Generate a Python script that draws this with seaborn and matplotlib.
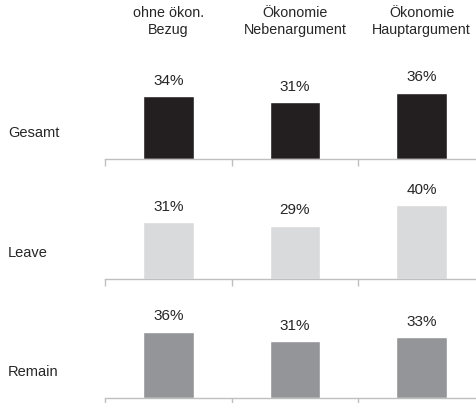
import numpy as np
import pandas as pd
import matplotlib
matplotlib.use("Agg")
import matplotlib.pyplot as plt
import matplotlib.transforms as mtransforms
import seaborn as sns

# Daten
kategorien = ["ohne ökon.\nBezug", "Ökonomie\nNebenargument", "Ökonomie\nHauptargument"]
gruppen = ["Gesamt", "Leave", "Remain"]
gesamt = [34, 31, 36]
leave = [31, 29, 40]
remain = [36, 31, 33]
farben = ["#231f20", "#d9dadb", "#939598"]

sns.set_style("white")
plt.rcParams['font.family'] = ['Liberation Sans', 'DejaVu Sans']

W, H = 477, 403
fig = plt.figure(figsize=(W / 100, H / 100), dpi=100)

baselines = [159, 279, 398]   # Pixel von oben
panel_h = 92
ymax = 50
x0, breite = 105, 380

werte = [gesamt, leave, remain]
achsen = []
for i, (gruppe, vals, farbe) in enumerate(zip(gruppen, werte, farben)):
    ax = fig.add_axes([x0 / W, (H - baselines[i]) / H, breite / W, panel_h / H])
    df = pd.DataFrame({"kat": kategorien, "wert": vals})
    sns.barplot(data=df, x="kat", y="wert", color=farbe, saturation=1,
                width=0.4, ax=ax)
    ax.set_xlim(-0.5, 2.5)
    ax.set_ylim(0, ymax)
    for s in ["top", "right", "left"]:
        ax.spines[s].set_visible(False)
    ax.spines["bottom"].set_color("#bfbfbf")
    ax.spines["bottom"].set_linewidth(1)
    ax.set_xticks([-0.5, 0.5, 1.5, 2.5])
    ax.set_xticklabels([])
    ax.tick_params(axis="x", direction="out", length=5, width=1,
                   color="#bfbfbf", bottom=True)
    ax.set_yticks([])
    ax.set_xlabel("")
    ax.set_ylabel("")
    for j, v in enumerate(vals):
        ax.annotate(f"{v}%", (j, v), xytext=(0, 6), textcoords="offset points",
                    ha="center", va="bottom", fontsize=11, color="#262626")
    fig.text(8 / W, (H - baselines[i] + 26) / H, gruppe, ha="left",
             va="center", fontsize=10.5, color="#262626")
    achsen.append(ax)

# Spaltenüberschriften
trans = mtransforms.blended_transform_factory(achsen[0].transData, fig.transFigure)
for j, k in enumerate(kategorien):
    achsen[0].text(j, (H - 6) / H, k, transform=trans, ha="center", va="top",
                   fontsize=10.3, color="#262626", linespacing=1.25)

fig.savefig("out.png", dpi=100)
